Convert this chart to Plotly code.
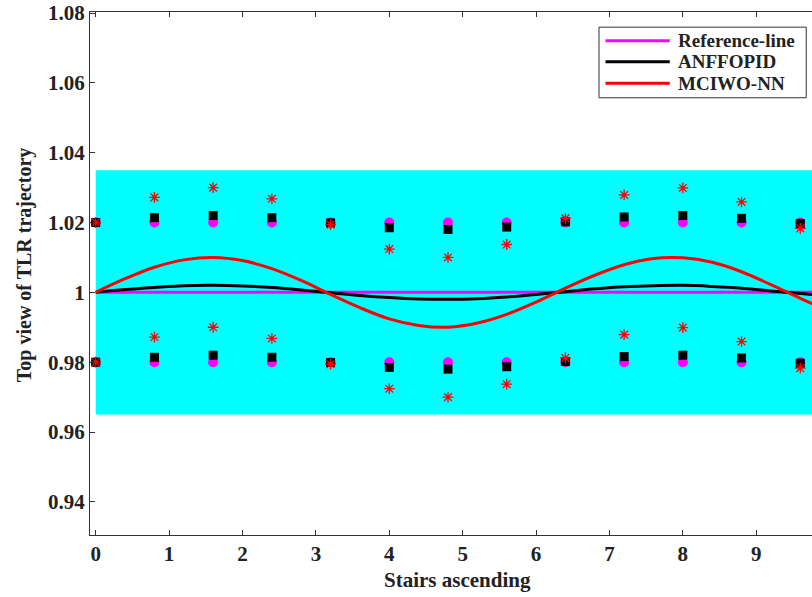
import plotly.graph_objects as go

# Continuous trajectories, sampled every 0.4 along the stair axis
line_x = [0.0, 0.4, 0.8, 1.2, 1.6, 2.0, 2.4, 2.8, 3.2, 3.6, 4.0, 4.4, 4.8,
          5.2, 5.6, 6.0, 6.4, 6.8, 7.2, 7.6, 8.0, 8.4, 8.8, 9.2, 9.6, 10.0]
reference_line = [1.0] * len(line_x)
anffopid_line = [1.0000, 1.0008, 1.0014, 1.0019, 1.0020, 1.0018, 1.0014, 1.0007,
                 0.9999, 0.9991, 0.9985, 0.9981, 0.9980, 0.9982, 0.9987, 0.9994,
                 1.0002, 1.0010, 1.0016, 1.0019, 1.0020, 1.0017, 1.0012, 1.0004,
                 0.9997, 0.9989]
mciwo_line = [1.0000, 1.0039, 1.0072, 1.0093, 1.0100, 1.0091, 1.0068, 1.0034,
              0.9994, 0.9956, 0.9924, 0.9905, 0.9900, 0.9912, 0.9937, 0.9972,
              1.0012, 1.0049, 1.0079, 1.0097, 1.0099, 1.0086, 1.0059, 1.0022,
              0.9983, 0.9946]

# Footstep samples (upper and lower rows)
step_x = [0.0, 0.8, 1.6, 2.4, 3.2, 4.0, 4.8, 5.6, 6.4, 7.2, 8.0, 8.8, 9.6]
ref_upper = [1.02] * len(step_x)
ref_lower = [0.98] * len(step_x)
anf_upper = [1.0200, 1.0214, 1.0220, 1.0214, 1.0199, 1.0185, 1.0180, 1.0187,
             1.0202, 1.0216, 1.0220, 1.0212, 1.0197]
anf_lower = [0.9800, 0.9814, 0.9820, 0.9814, 0.9799, 0.9785, 0.9780, 0.9787,
             0.9802, 0.9816, 0.9820, 0.9812, 0.9797]
mci_upper = [1.0200, 1.0272, 1.0300, 1.0268, 1.0194, 1.0124, 1.0100, 1.0137,
             1.0212, 1.0279, 1.0299, 1.0259, 1.0183]
mci_lower = [0.9800, 0.9872, 0.9900, 0.9868, 0.9794, 0.9724, 0.9700, 0.9737,
             0.9812, 0.9879, 0.9899, 0.9859, 0.9783]

# Tolerance band
band_low, band_high = 0.965, 1.035

x_ticks = [0, 1, 2, 3, 4, 5, 6, 7, 8, 9]
y_ticks = [0.94, 0.96, 0.98, 1.0, 1.02, 1.04, 1.06, 1.08]
y_tick_text = ["0.94", "0.96", "0.98", "1", "1.02", "1.04", "1.06", "1.08"]

series_names = ["Reference-line", "ANFFOPID", "MCIWO-NN"]

MAGENTA = "#ff00ff"
BLACK = "#000000"
RED = "#ff0000"
series_colors = [MAGENTA, BLACK, RED]
FONT = "Liberation Serif"
TEXT = "#222222"

fig = go.Figure()

# Trajectory lines
fig.add_trace(go.Scatter(x=line_x, y=reference_line, mode="lines", name=series_names[0],
                         line=dict(color=MAGENTA, width=3)))
fig.add_trace(go.Scatter(x=line_x, y=anffopid_line, mode="lines", name=series_names[1],
                         line=dict(color=BLACK, width=3, shape="spline")))
fig.add_trace(go.Scatter(x=line_x, y=mciwo_line, mode="lines", name=series_names[2],
                         line=dict(color=RED, width=3, shape="spline")))

# Footstep markers
for ys in (ref_upper, ref_lower):
    fig.add_trace(go.Scatter(x=step_x, y=ys, mode="markers",
                             marker=dict(symbol="circle", size=10, color=MAGENTA,
                                         line=dict(width=0))))
for ys in (anf_upper, anf_lower):
    fig.add_trace(go.Scatter(x=step_x, y=ys, mode="markers",
                             marker=dict(symbol="square", size=9, color=BLACK,
                                         line=dict(width=0))))
for ys in (mci_upper, mci_lower):
    fig.add_trace(go.Scatter(x=step_x, y=ys, mode="markers",
                             marker=dict(symbol="asterisk-open", size=9, color=RED,
                                         line=dict(color=RED, width=1.3))))

fig.add_shape(type="rect", xref="x", yref="y", x0=0, x1=20, y0=band_low, y1=band_high,
              fillcolor="#00ffff", line=dict(width=0), layer="below")

# Boxed legend in the upper-right corner (paper coordinates)
LEG_X0, LEG_X1, LEG_Y0, LEG_Y1 = 0.705, 0.992, 0.836, 0.971
ROW_Y = [0.945, 0.905, 0.864]
SAMPLE_X0, SAMPLE_X1, LABEL_X = 0.714, 0.803, 0.812
fig.add_shape(type="rect", xref="paper", yref="paper", x0=LEG_X0, x1=LEG_X1,
              y0=LEG_Y0, y1=LEG_Y1, fillcolor="white",
              line=dict(color="#333333", width=1))
for name, color, ry in zip(series_names, series_colors, ROW_Y):
    fig.add_shape(type="line", xref="paper", yref="paper", x0=SAMPLE_X0, x1=SAMPLE_X1,
                  y0=ry, y1=ry, line=dict(color=color, width=3))
    fig.add_annotation(text=f"<b>{name}</b>", xref="paper", yref="paper", x=LABEL_X, y=ry,
                       xanchor="left", yanchor="middle", showarrow=False,
                       font=dict(family=FONT, size=19, color=TEXT))

axis_common = dict(
    showgrid=False, zeroline=False, ticks="inside", ticklen=5, tickwidth=1,
    tickcolor="#333333", showline=True, linecolor="#333333", linewidth=1,
    tickfont=dict(family=FONT, size=21, color=TEXT, weight="bold"),
)

fig.update_xaxes(range=[-0.078, 9.76], tickvals=x_ticks, mirror="ticks", **axis_common)
fig.update_yaxes(range=[0.9305, 1.0803], tickvals=y_ticks, ticktext=y_tick_text,
                 **axis_common)

fig.add_annotation(text="<b>Stairs ascending</b>", xref="paper", yref="paper",
                   x=0.509, y=-0.086, xanchor="center", yanchor="middle", showarrow=False,
                   font=dict(family=FONT, size=21, color=TEXT))
fig.add_annotation(text="<b>Top view of TLR trajectory</b>", xref="paper", yref="paper",
                   x=-0.0914, y=0.516, xanchor="center", yanchor="middle", showarrow=False,
                   textangle=-90, font=dict(family=FONT, size=20, color=TEXT))

fig.update_layout(
    width=812, height=597,
    margin=dict(l=90, r=0, t=12, b=62),
    paper_bgcolor="white", plot_bgcolor="white",
    font=dict(family=FONT, color=TEXT),
    showlegend=False,
)

fig.write_html("out.html")
